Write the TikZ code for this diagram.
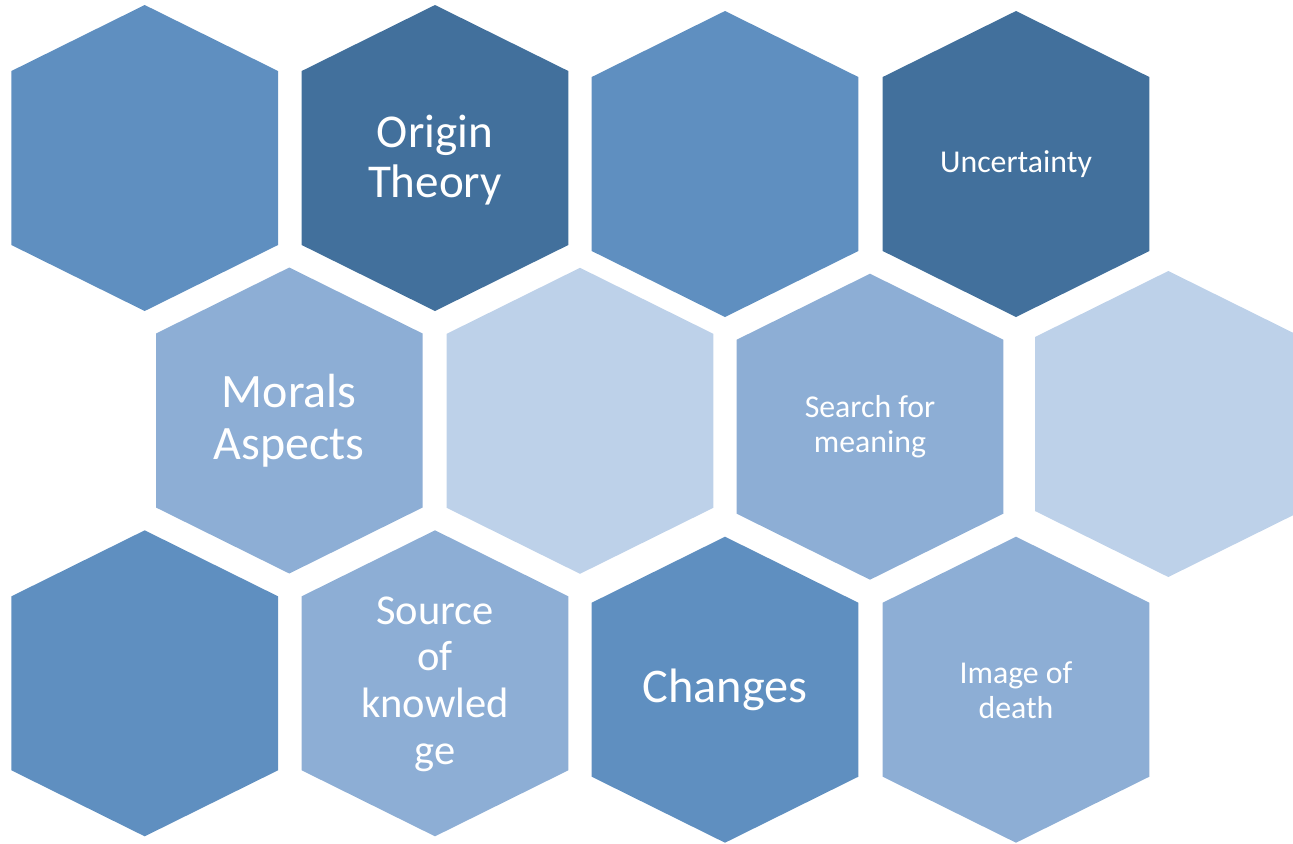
\documentclass[tikz,border=0pt]{standalone}
\usepackage{fontspec}
\setmainfont{Carlito}
\usepackage{xcolor}
\definecolor{hexdark}{HTML}{42709C}
\definecolor{hexmid}{HTML}{5F8FC0}
\definecolor{hexlight}{HTML}{8DAED5}
\definecolor{hexpale}{HTML}{BDD1E9}

\begin{document}
\begin{tikzpicture}[
    x=0.02cm, y=-0.02cm,
    cell/.pic={\fill (0,-153) -- (133.3,-87) -- (133.3,87) -- (0,153) -- (-133.3,87) -- (-133.3,-87) -- cycle;},
    bigtxt/.style={text=white, align=center, font=\fontsize{26.8}{28.3}\selectfont},
    smalltxt/.style={text=white, align=center, font=\fontsize{18.1}{19.8}\selectfont}
]
    \useasboundingbox (0,0) rectangle (1293,843);
    \clip (0,0) rectangle (1293,843);

    % Row 1
    \pic[fill=hexmid]  at (144.7,158) {cell};
    \pic[fill=hexdark] at (435,158)   {cell};
    \pic[fill=hexmid]  at (725,164)   {cell};
    \pic[fill=hexdark] at (1016,164)  {cell};

    % Row 2
    \pic[fill=hexlight] at (289.3,420.5) {cell};
    \pic[fill=hexpale]  at (580,420.8)   {cell};
    \pic[fill=hexlight] at (870,426.7)   {cell};
    \pic[fill=hexpale]  at (1168.3,424)  {cell};

    % Row 3
    \pic[fill=hexmid]   at (144.7,683.3) {cell};
    \pic[fill=hexlight] at (435,683.3)   {cell};
    \pic[fill=hexmid]   at (725,689.7)   {cell};
    \pic[fill=hexlight] at (1016,689.7)  {cell};

    % Labels
    \node[bigtxt] (origin) at (435,160) {Origin\\Theory};
    \node[smalltxt] (uncert) at (1016,164) {Uncertainty};
    \node[bigtxt, font=\fontsize{27.3}{29.5}\selectfont] (morals) at (289.3,420.5) {Morals\\Aspects};
    \node[smalltxt] (search) at (870,427) {Search for\\meaning};
    \node[bigtxt, font=\fontsize{24.2}{26.5}\selectfont] (source) at (435,684) {Source\\of\\knowled\\ge};
    \node[bigtxt, font=\fontsize{27.5}{32}\selectfont] (changes) at (725,689.7) {Changes};
    \node[smalltxt] (death) at (1016,690) {Image of\\death};
\end{tikzpicture}
\end{document}
